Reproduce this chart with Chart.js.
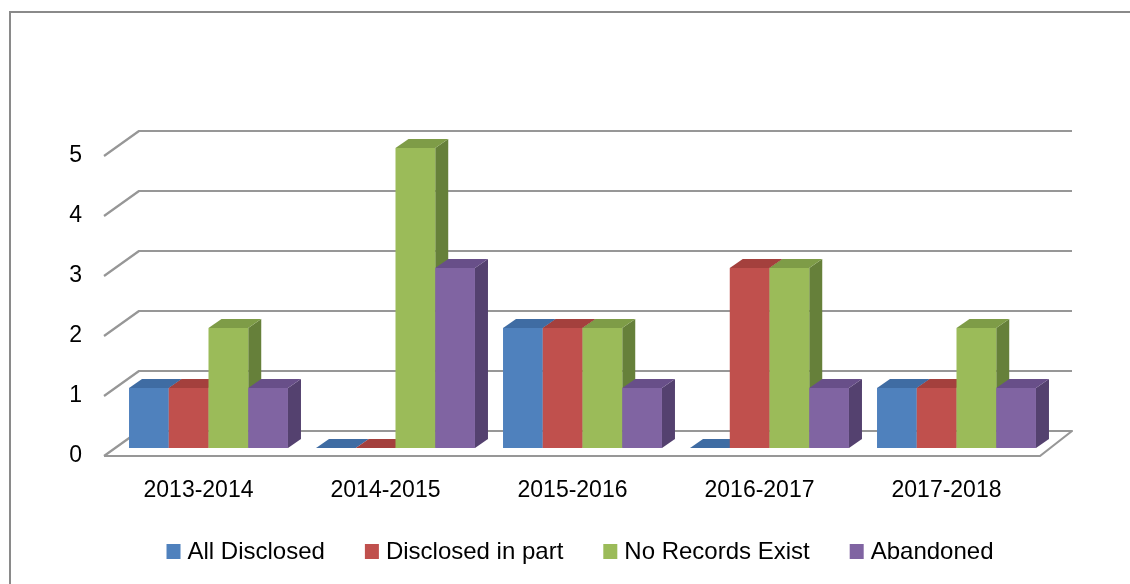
<!DOCTYPE html>
<html>
<head>
<meta charset="utf-8">
<script src="https://cdn.jsdelivr.net/npm/chart.js@4/dist/chart.umd.min.js"></script>
<style>
html,body{margin:0;padding:0;background:#fff;}
canvas{display:block;}
</style>
</head>
<body>
<canvas id="c" width="1130" height="584"></canvas>
<script>
const categories = ['2013-2014', '2014-2015', '2015-2016', '2016-2017', '2017-2018'];
const allDisclosed = [1, 0, 2, 0, 1];
const disclosedInPart = [1, 0, 2, 3, 1];
const noRecordsExist = [2, 5, 2, 3, 2];
const abandoned = [1, 3, 1, 1, 1];
const yTicks = [0, 1, 2, 3, 4, 5];
const seriesNames = ['All Disclosed', 'Disclosed in part', 'No Records Exist', 'Abandoned'];
const seriesColors = ['#4F81BD', '#C0504D', '#9BBB59', '#8064A2'];
const topColors = ['#3F6CA3', '#A4403D', '#7E9C47', '#684F89'];
const sideColors = ['#32567F', '#833331', '#66803A', '#54416F'];

const FONT = '"Liberation Sans", Arial, sans-serif';

const grid3d = {
  id: 'grid3d',
  beforeDatasetsDraw(chart) {
    const ctx = chart.ctx, ca = chart.chartArea, y = chart.scales.y;
    ctx.save();
    ctx.strokeStyle = '#979797';
    ctx.lineWidth = 2.2;
    ctx.lineJoin = 'round';
    const ddx = 34, ddy = -25, rdx = 32;
    yTicks.forEach(v => {
      const yf = y.getPixelForValue(v);
      ctx.beginPath();
      ctx.moveTo(ca.left - 1, yf);
      ctx.lineTo(ca.left + ddx, yf + ddy);
      ctx.lineTo(ca.right + rdx, yf + ddy);
      if (v === 0) {
        ctx.lineTo(ca.right, yf);
        ctx.lineTo(ca.left - 1, yf);
      }
      ctx.stroke();
    });
    ctx.restore();

    const ox = 10, oy = -8, dx = 13, dy = -9;
    const n = categories.length;
    ctx.save();
    for (let i = 0; i < n; i++) {
      chart.data.datasets.forEach((ds, d) => {
        const el = chart.getDatasetMeta(d).data[i];
        const w = el.width;
        const xl = el.x - w / 2 + ox, xr = el.x + w / 2 + ox;
        const top = el.y + oy, base = el.base + oy;
        ctx.fillStyle = sideColors[d];
        ctx.beginPath();
        ctx.moveTo(xr, top); ctx.lineTo(xr + dx, top + dy);
        ctx.lineTo(xr + dx, base + dy); ctx.lineTo(xr, base);
        ctx.closePath(); ctx.fill();
        ctx.fillStyle = topColors[d];
        ctx.beginPath();
        ctx.moveTo(xl, top); ctx.lineTo(xl + dx, top + dy);
        ctx.lineTo(xr + dx, top + dy); ctx.lineTo(xr, top);
        ctx.closePath(); ctx.fill();
        ctx.fillStyle = seriesColors[d];
        ctx.fillRect(xl, top, xr - xl, base - top);
      });
    }
    ctx.restore();
    return false;
  },
  afterDraw(chart) {
    const ctx = chart.ctx;
    ctx.save();
    ctx.strokeStyle = '#8a8a8a';
    ctx.lineWidth = 2;
    ctx.beginPath();
    ctx.moveTo(10, 584); ctx.lineTo(10, 12); ctx.lineTo(1130, 12);
    ctx.stroke();
    ctx.font = '24px ' + FONT;
    ctx.textBaseline = 'middle';
    const box = 14, gapT = 7, gapI = 40, cy = 551;
    const widths = seriesNames.map(s => box + gapT + ctx.measureText(s).width);
    const total = widths.reduce((a, b) => a + b, 0) + gapI * (widths.length - 1);
    let x = 580 - total / 2;
    seriesNames.forEach((s, k) => {
      ctx.fillStyle = seriesColors[k];
      ctx.fillRect(x, cy - box / 2, box, box + 1);
      ctx.fillStyle = '#000';
      ctx.textAlign = 'left';
      ctx.fillText(s, x + box + gapT, cy + 1);
      x += widths[k] + gapI;
    });
    ctx.restore();
  }
};

new Chart(document.getElementById('c'), {
  type: 'bar',
  data: {
    labels: categories,
    datasets: [
      { label: seriesNames[0], data: allDisclosed, backgroundColor: seriesColors[0] },
      { label: seriesNames[1], data: disclosedInPart, backgroundColor: seriesColors[1] },
      { label: seriesNames[2], data: noRecordsExist, backgroundColor: seriesColors[2] },
      { label: seriesNames[3], data: abandoned, backgroundColor: seriesColors[3] }
    ]
  },
  options: {
    responsive: false,
    devicePixelRatio: 1,
    animation: false,
    layout: { padding: { left: 0, right: 90, top: 156, bottom: 0 } },
    datasets: { bar: { categoryPercentage: 0.85, barPercentage: 1.0 } },
    plugins: { legend: { display: false }, tooltip: { enabled: false } },
    scales: {
      x: {
        grid: { display: false, drawTicks: false },
        border: { display: false },
        ticks: { font: { family: FONT, size: 23 }, color: '#000', padding: 21, maxRotation: 0 },
        afterFit: s => { s.height = 128; }
      },
      y: {
        min: 0, max: 5,
        grid: { display: false, drawTicks: false },
        border: { display: false },
        ticks: { stepSize: 1, font: { family: FONT, size: 23 }, color: '#000', padding: 23 },
        afterFit: s => { s.width = 105; }
      }
    }
  },
  plugins: [grid3d]
});
</script>
</body>
</html>
